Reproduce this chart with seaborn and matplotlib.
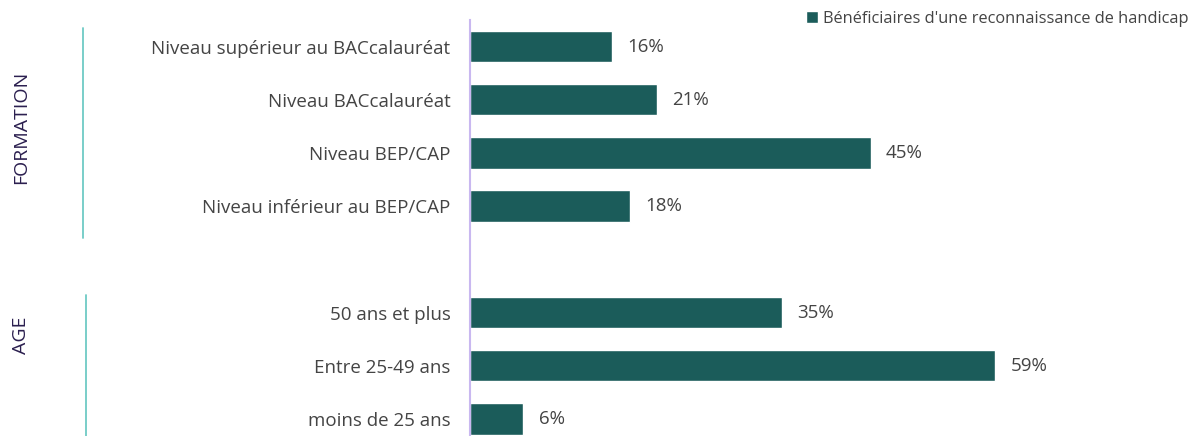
import pandas as pd
import seaborn as sns
import matplotlib.pyplot as plt

# %% Data
formation = ['Niveau supérieur au BACcalauréat', 'Niveau BACcalauréat',
             'Niveau BEP/CAP', 'Niveau inférieur au BEP/CAP']
formation_vals = [16, 21, 45, 18]
age = ['50 ans et plus', 'Entre 25-49 ans', 'moins de 25 ans']
age_vals = [35, 59, 6]
series_name = "Bénéficiaires d'une reconnaissance de handicap"

df = pd.DataFrame({
    'categorie': formation + age,
    'valeur': formation_vals + age_vals,
    'groupe': ['FORMATION'] * len(formation) + ['AGE'] * len(age),
})
order = formation + [' '] + age

# %% Plot
sns.set_style('white')
plt.rcParams['font.family'] = ['Open Sans', 'DejaVu Sans']

W, H = 1199, 436
bar_color = '#1b5c5a'
fig = plt.figure(figsize=(W / 100, H / 100), dpi=100)
ax = fig.add_axes([470 / W, 0, 729 / W, 416 / H])

sns.barplot(data=df, x='valeur', y='categorie', order=order, color=bar_color,
            width=0.59, saturation=1, ax=ax, label=series_name)

ax.set_xlim(0, 81.9)
ax.set_ylim(7.32, -0.5)
ax.set_xlabel('')
ax.set_ylabel('')
ax.set_xticks([])
for s in ['top', 'right', 'bottom']:
    ax.spines[s].set_visible(False)
ax.spines['left'].set_color('#c9b8f0')
ax.spines['left'].set_linewidth(1.5)
ax.tick_params(axis='y', length=0, pad=14, labelsize=13.5, labelcolor='#444444')

for c in ax.containers:
    ax.bar_label(c, labels=[f'{v:.0f}%' for v in c.datavalues], padding=11,
                 fontsize=13.5, color='#444444')

leg = ax.legend(loc='upper right', bbox_to_anchor=(1.0, 1.0),
                bbox_transform=fig.transFigure, frameon=False,
                fontsize=11.8, handlelength=0.7, handleheight=0.7,
                handletextpad=0.3, borderaxespad=0.35, borderpad=0.3)
for t in leg.get_texts():
    t.set_color('#444444')

# group brackets
fig.add_artist(plt.Line2D([83 / W, 83 / W], [1 - 28 / H, 1 - 238 / H],
                          color='#6ecac5', lw=1.3))
fig.add_artist(plt.Line2D([86 / W, 86 / W], [1 - 295 / H, 0],
                          color='#6ecac5', lw=1.3))
fig.text(21 / W, 1 - 127 / H, 'FORMATION', rotation=90, ha='center',
         va='center', fontsize=14, color='#2b1f4f')
fig.text(21 / W, 1 - 335 / H, 'AGE', rotation=90, ha='center',
         va='center', fontsize=14, color='#2b1f4f')

fig.savefig('out.png', dpi=100)
